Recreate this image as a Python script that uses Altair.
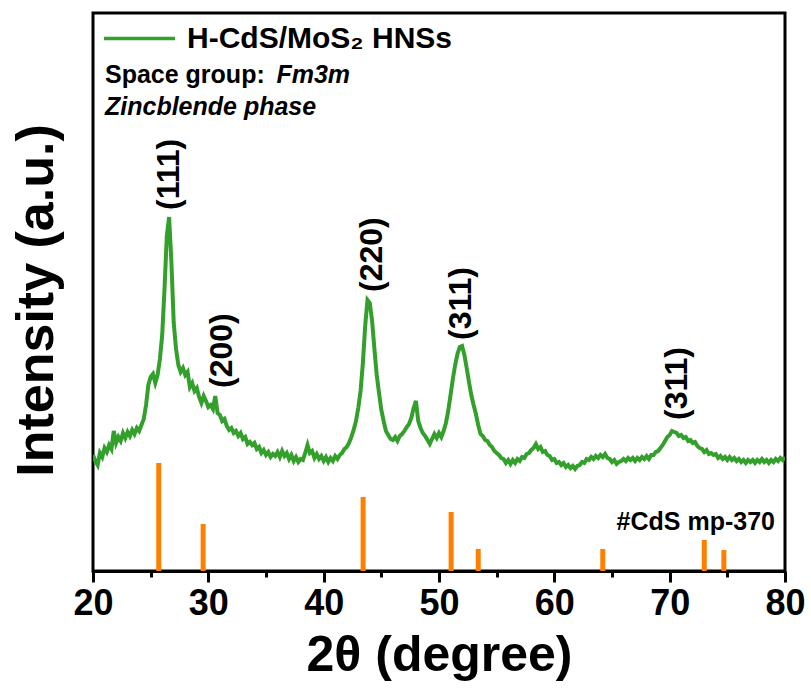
import altair as alt
import pandas as pd

# ---- data ----
two_theta = [round(20 + 0.2 * i, 1) for i in range(301)]  # instrument step 0.2 deg
intensity = [
    116, 110, 106, 118, 114,   # 20
    123, 119, 126, 122, 140,   # 21
    128, 134, 130, 138, 133,   # 22
    139, 135, 141, 137, 143,   # 23
    140, 146, 152, 166, 186,   # 24
    194, 197, 188, 196, 212,   # 25
    236, 282, 335, 354, 308,   # 26
    248, 222, 206, 199, 203,   # 27
    196, 199, 184, 188, 180,   # 28
    183, 174, 168, 175, 170,   # 29
    164, 166, 162, 175, 158,   # 30
    156, 150, 152, 145, 141,   # 31
    143, 138, 140, 135, 138,   # 32
    132, 134, 127, 129, 126,   # 33
    128, 122, 124, 118, 121,   # 34
    116, 119, 114, 117, 115,   # 35
    119, 114, 120, 115, 118,   # 36
    112, 116, 110, 114, 109,   # 37
    112, 111, 118, 126, 118,   # 38
    120, 113, 117, 112, 115,   # 39
    110, 114, 109, 113, 110,   # 40
    115, 112, 116, 118, 122,   # 41
    124, 128, 134, 141, 150,   # 42
    163, 180, 208, 245, 271,   # 43
    268, 250, 222, 196, 178,   # 44
    161, 150, 140, 136, 132,   # 45
    131, 134, 130, 135, 137,   # 46
    140, 144, 147, 153, 163,   # 47
    170, 150, 143, 138, 135,   # 48
    131, 127, 132, 137, 133,   # 49
    138, 134, 140, 148, 160,   # 50
    176, 192, 206, 217, 224,   # 51
    225, 216, 203, 189, 176,   # 52
    166, 157, 146, 137, 135,   # 53
    131, 130, 126, 124, 120,   # 54
    118, 116, 113, 112, 108,   # 55
    111, 107, 111, 108, 112,   # 56
    110, 114, 113, 117, 118,   # 57
    121, 123, 127, 122, 124,   # 58
    119, 120, 116, 115, 111,   # 59
    112, 108, 109, 106, 108,   # 60
    104, 106, 103, 105, 102,   # 61
    105, 106, 109, 108, 112,   # 62
    111, 114, 112, 115, 113,   # 63
    116, 114, 117, 113, 112,   # 64
    109, 111, 107, 109, 110,   # 65
    112, 110, 113, 111, 113,   # 66
    110, 113, 111, 114, 112,   # 67
    115, 112, 116, 116, 119,   # 68
    120, 123, 126, 130, 134,   # 69
    136, 140, 139, 138, 135,   # 70
    136, 133, 134, 130, 131,   # 71
    128, 129, 125, 123, 122,   # 72
    119, 121, 117, 118, 116,   # 73
    117, 113, 115, 112, 114,   # 74
    111, 114, 111, 113, 110,   # 75
    112, 109, 111, 108, 111,   # 76
    109, 111, 108, 111, 109,   # 77
    112, 109, 111, 108, 111,   # 78
    109, 112, 110, 113, 111,   # 79
    114,                       # 80
]
series_name = "H-CdS/MoS\u2082 HNSs"

ref_pos = [25.7, 29.55, 43.42, 51.05, 53.4, 64.2, 73.0, 74.7]
ref_int = [108, 47, 74, 59, 22, 22, 31, 21]

peak_labels = ["(111)", "(200)", "(220)", "(311)", "(311)"]
peak_x = [26.6, 31.2, 44.2, 51.9, 70.65]
peak_y = [361, 183, 279, 231, 151]

GREEN = "#33a02c"
ORANGE = "#ff8000"
FONT = "Liberation Sans"

df = pd.DataFrame({"tt": two_theta, "I": intensity, "series": series_name})
df_ref = pd.DataFrame({"tt": ref_pos, "I": ref_int, "zero": 0})
df_peaks = pd.DataFrame({"tt": peak_x, "I": peak_y, "lab": peak_labels})

x_scale = alt.Scale(domain=[20, 80], nice=False, zero=False)
y_scale = alt.Scale(domain=[0, 558], nice=False, zero=True)

x_axis = alt.Axis(
    values=[20, 25, 30, 35, 40, 45, 50, 55, 60, 65, 70, 75, 80],
    labelExpr="datum.value % 10 == 0 ? datum.label : ''",
    tickSize={"condition": {"test": "datum.value % 10 == 0", "value": 11}, "value": 6},
    tickWidth=3, tickColor="black", domainColor="black", domainWidth=3,
    labelFont=FONT, labelFontSize=36, labelFontWeight="bold", labelColor="black",
    labelPadding=4, labelFlush=False, labelOverlap=False,
    grid=False,
    title="2\u03b8 (degree)", titleFont=FONT, titleFontSize=50, titleFontWeight="bold",
    titleColor="black", titleY=99, titleBaseline="alphabetic",
)
y_axis = alt.Axis(
    labels=False, ticks=False, domain=False, grid=False,
    title="Intensity (a.u.)", titleFont=FONT, titleFontSize=52, titleFontWeight="bold",
    titleColor="black", titleAngle=270, titleX=-41, titleY=287,
    titleAlign="center", titleBaseline="alphabetic",
)

line = alt.Chart(df).mark_line(strokeWidth=4, clip=True).encode(
    x=alt.X("tt:Q", scale=x_scale, axis=x_axis),
    y=alt.Y("I:Q", scale=y_scale, axis=y_axis),
    color=alt.Color(
        "series:N",
        scale=alt.Scale(domain=[series_name], range=[GREEN]),
        legend=alt.Legend(
            title=None, orient="none", legendX=9, legendY=-12, padding=0,
            symbolType="stroke", symbolSize=5041, symbolStrokeWidth=3.5,
            labelFont=FONT, labelFontSize=30, labelFontWeight="bold",
            labelColor="black", labelOffset=10, labelLimit=0,
        ),
    ),
)

refs = alt.Chart(df_ref).mark_rule(strokeWidth=5, color=ORANGE).encode(
    x="tt:Q", y="I:Q", y2="zero:Q",
)

peaks = alt.Chart(df_peaks).mark_text(
    angle=270, align="left", baseline="middle", font=FONT, fontSize=32,
    fontWeight="bold", color="black",
).encode(x="tt:Q", y="I:Q", text="lab:N")

txt_space = alt.Chart(pd.DataFrame({"tt": [21.04], "I": [488], "t": ["Space group:"]})).mark_text(
    align="left", baseline="alphabetic", font=FONT, fontSize=25, fontWeight="bold", color="black",
).encode(x="tt:Q", y="I:Q", text="t:N")
txt_fm = alt.Chart(pd.DataFrame({"tt": [35.9], "I": [488], "t": ["Fm3m"]})).mark_text(
    align="left", baseline="alphabetic", font=FONT, fontSize=25, fontWeight="bold",
    fontStyle="italic", color="black",
).encode(x="tt:Q", y="I:Q", text="t:N")
txt_zinc = alt.Chart(pd.DataFrame({"tt": [21.04], "I": [456], "t": ["Zincblende phase"]})).mark_text(
    align="left", baseline="alphabetic", font=FONT, fontSize=25, fontWeight="bold",
    fontStyle="italic", color="black",
).encode(x="tt:Q", y="I:Q", text="t:N")
txt_ref = alt.Chart(pd.DataFrame({"tt": [79.13], "I": [41], "t": ["#CdS mp-370"]})).mark_text(
    align="right", baseline="alphabetic", font=FONT, fontSize=25, fontWeight="bold", color="black",
).encode(x="tt:Q", y="I:Q", text="t:N")

chart = alt.layer(line, refs, peaks, txt_space, txt_fm, txt_zinc, txt_ref).properties(
    width=692, height=558,
    autosize=alt.AutoSizeParams(type="none"),
    padding={"left": 93, "top": 13, "right": 26, "bottom": 120},
    background="white",
).configure(
    font=FONT,
    view=alt.ViewConfig(stroke="black", strokeWidth=3),
)

chart.save("out.html", embed_options={"renderer": "svg", "actions": False})
